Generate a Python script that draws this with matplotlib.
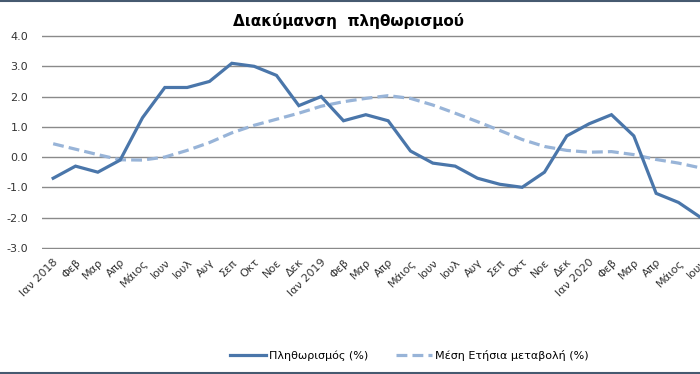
import numpy as np
import matplotlib
matplotlib.use("Agg")
from matplotlib import pyplot as plt
from matplotlib.lines import Line2D

months = ["Ιαν 2018", "Φεβ", "Μαρ", "Απρ", "Μάιος", "Ιουν", "Ιουλ", "Αυγ", "Σεπ", "Οκτ", "Νοε", "Δεκ",
          "Ιαν 2019", "Φεβ", "Μαρ", "Απρ", "Μάιος", "Ιουν", "Ιουλ", "Αυγ", "Σεπ", "Οκτ", "Νοε", "Δεκ",
          "Ιαν 2020", "Φεβ", "Μαρ", "Απρ", "Μάιος", "Ιουν", "Ιουλ"]
inflation = [-0.7, -0.3, -0.5, -0.1, 1.3, 2.3, 2.3, 2.5, 3.1, 3.0, 2.7, 1.7,
             2.0, 1.2, 1.4, 1.2, 0.2, -0.2, -0.3, -0.7, -0.9, -1.0, -0.5, 0.7,
             1.1, 1.4, 0.7, -1.2, -1.5, -2.0]
annual_avg = [0.44, 0.26, 0.08, -0.09, -0.10, 0.00, 0.22, 0.48, 0.80, 1.05, 1.25, 1.45,
              1.68, 1.83, 1.94, 2.03, 1.94, 1.72, 1.45, 1.17, 0.88, 0.58, 0.35, 0.22,
              0.16, 0.18, 0.08, -0.08, -0.20, -0.36]
yticks = [4.0, 3.0, 2.0, 1.0, 0.0, -1.0, -2.0, -3.0]

solid_c = "#4a76aa"
dash_c = "#98b4d8"

fig = plt.figure(figsize=(7, 3.74), dpi=100)
ax = fig.add_axes([0.06, 0.335, 0.989, 0.571])

x = np.arange(len(inflation))
ax.plot(x, annual_avg, color=dash_c, lw=2.3, ls=(0, (3.4, 1.6)), zorder=3)
ax.plot(x, inflation, color=solid_c, lw=2.3, zorder=4, solid_joinstyle="miter")

ax.set_xlim(-0.5, len(months) - 0.5)
ax.set_ylim(-3.03, 4.03)
ax.set_yticks(yticks)
ax.set_yticklabels([f"{v:.1f}" for v in yticks], fontsize=8, color="#333333")
ax.set_xticks(np.arange(len(months)))
ax.set_xticklabels(months, rotation=45, ha="right", rotation_mode="anchor", fontsize=8, color="#333333")
ax.tick_params(length=0, pad=6)
ax.tick_params(axis="y", pad=10)
ax.grid(axis="y", color="#8a8a8a", lw=1)
ax.set_axisbelow(True)
for s in ax.spines.values():
    s.set_visible(False)

fig.text(0.498, 0.945, "Διακύμανση  πληθωρισμού", ha="center", va="center", fontsize=11, fontweight="bold")

handles = [Line2D([], [], color=solid_c, lw=2.3),
           Line2D([], [], color=dash_c, lw=2.3, ls=(0, (3.4, 1.6)))]
fig.legend(handles, ["Πληθωρισμός (%)", "Μέση Ετήσια μεταβολή (%)"], loc="center",
           bbox_to_anchor=(0.585, 0.05), ncol=2, frameon=False, fontsize=8,
           handlelength=3.2, handletextpad=0.3, columnspacing=2.5)

# frame lines at top and bottom
fig.add_artist(Line2D([0, 1], [0.997, 0.997], color="#465a70", lw=1.5))
fig.add_artist(Line2D([0, 1], [0.004, 0.004], color="#465a70", lw=1.5))

fig.savefig("out.png", dpi=100)
